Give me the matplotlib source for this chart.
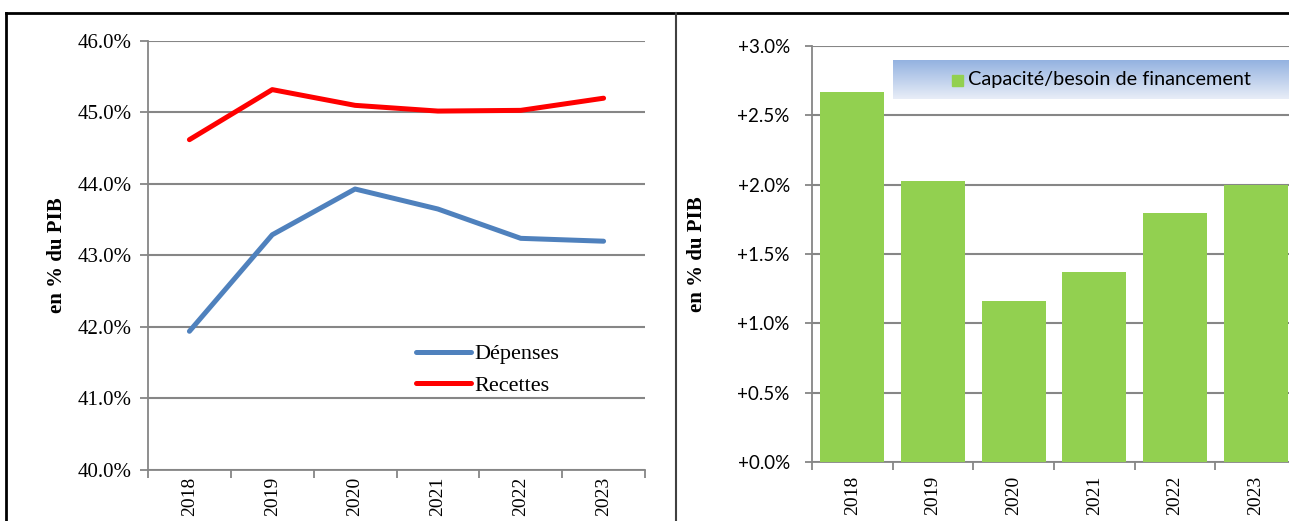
import numpy as np
import matplotlib
matplotlib.use("Agg")
import matplotlib.pyplot as plt
from matplotlib.lines import Line2D
from matplotlib.ticker import FuncFormatter

# data
years = ["2018", "2019", "2020", "2021", "2022", "2023"]
depenses = [41.94, 43.29, 43.93, 43.65, 43.24, 43.20]
recettes = [44.62, 45.32, 45.10, 45.02, 45.03, 45.20]
capacite = [2.667, 2.026, 1.161, 1.370, 1.795, 1.997]

W, H = 1289, 521
fig = plt.figure(figsize=(W / 100, H / 100), dpi=100)

def px(x0, y0, x1, y1):
    # pixel box (top-left origin) -> figure fraction rect
    return [x0 / W, 1 - y1 / H, (x1 - x0) / W, (y1 - y0) / H]

serif = "Liberation Serif"
sans = "Lato"
grid_c = "#868686"
x = np.arange(len(years)) + 0.5

# ---- left panel: dépenses / recettes
ax1 = fig.add_axes(px(148, 41, 645, 470))
ax1.plot(x, depenses, color="#4F81BD", lw=3.6, label="Dépenses", solid_capstyle="round")
ax1.plot(x, recettes, color="#FF0000", lw=3.6, label="Recettes", solid_capstyle="round")
ax1.set_xlim(0, 6)
ax1.set_ylim(40, 46)
ax1.set_yticks(np.arange(40, 46.1, 1))
ax1.yaxis.set_major_formatter(FuncFormatter(lambda v, p: f"{v:.1f}%"))
ax1.set_xticks(range(7))
ax1.set_xticklabels([])
ax1.set_xticks(x, minor=True)
ax1.set_xticklabels(years, minor=True, rotation=90, fontfamily=serif, fontsize=14, va="top")
ax1.tick_params(axis="x", which="minor", length=0, pad=5)
ax1.tick_params(axis="x", which="major", length=6, color=grid_c, width=1.3)
ax1.tick_params(axis="y", length=6, color=grid_c, width=1.3, labelsize=15, pad=6)
for t in ax1.get_yticklabels():
    t.set_fontfamily(serif)
ax1.grid(axis="y", color=grid_c, lw=1.5)
ax1.set_axisbelow(True)
for s in ["top", "right"]:
    ax1.spines[s].set_visible(False)
for s in ["left", "bottom"]:
    ax1.spines[s].set_color(grid_c)
    ax1.spines[s].set_linewidth(1.3)
ax1.set_ylabel("en % du PIB", fontfamily=serif, fontsize=15, fontweight="bold")
ax1.yaxis.set_label_coords(-0.163, 0.5)
ax1.legend(loc="upper left", bbox_to_anchor=(0.539, 0.294), frameon=False,
           prop={"family": serif, "size": 16}, handlelength=2.5,
           handletextpad=0.15, labelspacing=0.5, borderpad=0, borderaxespad=0)

# ---- right panel: capacité / besoin de financement
ax2 = fig.add_axes(px(812, 46, 1296, 462))
ax2.bar(x, capacite, width=0.79, color="#92D050", zorder=3)
ax2.set_xlim(0, 6)
ax2.set_ylim(0, 3)
ax2.set_yticks(np.arange(0, 3.01, 0.5))
ax2.yaxis.set_major_formatter(FuncFormatter(lambda v, p: f"+{v:.1f}%"))
ax2.set_xticks(range(7))
ax2.set_xticklabels([])
ax2.set_xticks(x, minor=True)
ax2.set_xticklabels(years, minor=True, rotation=90, fontfamily=serif, fontsize=14, va="top")
ax2.tick_params(axis="x", which="minor", length=0, pad=10)
ax2.tick_params(axis="x", which="major", length=6, color=grid_c, width=1.3)
ax2.tick_params(axis="y", length=5, color=grid_c, width=1.3, labelsize=13.5, pad=11)
for t in ax2.get_yticklabels():
    t.set_fontfamily(sans)
ax2.grid(axis="y", color=grid_c, lw=1.5, zorder=0)
for s in ["top", "right"]:
    ax2.spines[s].set_visible(False)
for s in ["left", "bottom"]:
    ax2.spines[s].set_color(grid_c)
    ax2.spines[s].set_linewidth(1.3)
ax2.set_ylabel("en % du PIB", fontfamily=serif, fontsize=15, fontweight="bold")
ax2.yaxis.set_label_coords(-0.217, 0.5)

# legend box with blue gradient
lax = fig.add_axes(px(893, 60, 1300, 99))
grad = np.linspace(0, 1, 64).reshape(-1, 1)
top = np.array([0.58, 0.70, 0.88])
bot = np.array([0.91, 0.93, 0.97])
img = top + (bot - top) * grad[..., None]
lax.imshow(img, aspect="auto", extent=[0, 1, 0, 1])
lax.set_axis_off()
fig.patches.append(plt.Rectangle((952 / W, 1 - 86 / H), 11 / W, 11 / H,
                                 transform=fig.transFigure, color="#92D050"))
fig.text(968 / W, 1 - 80 / H, "Capacité/besoin de financement", fontfamily=sans,
         fontsize=14.3, va="center", ha="left")

# outer frame
fig.add_artist(Line2D([6 / W, 1], [1 - 13 / H] * 2, color="black", lw=2))
fig.add_artist(Line2D([6 / W] * 2, [0, 1 - 13 / H], color="black", lw=2))
fig.add_artist(Line2D([676 / W] * 2, [0, 1 - 13 / H], color="#404040", lw=1.5))

fig.savefig("out.png", dpi=100)
